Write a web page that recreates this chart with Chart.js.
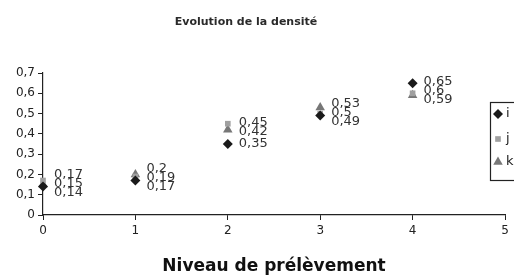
<!DOCTYPE html>
<html>
<head>
<meta charset="utf-8">
<script src="https://cdn.jsdelivr.net/npm/chart.js"></script>
<style>
  body { margin: 0; background: #fff; }
  #wrap { width: 514px; height: 280px; }
</style>
</head>
<body>
<div id="wrap"><canvas id="myChart"></canvas></div>
<script>
var levels = [0, 1, 2, 3, 4];
var seriesNames = ["i", "j", "k"];
var iValues = [0.14, 0.17, 0.35, 0.49, 0.65];
var jValues = [0.17, 0.19, 0.45, 0.5, 0.6];
var kValues = [0.15, 0.2, 0.42, 0.53, 0.59];
var yTicks = [0, 0.1, 0.2, 0.3, 0.4, 0.5, 0.6, 0.7];

var FONT = "'DejaVu Sans', Arial, sans-serif";

function pts(vals) {
  return levels.map(function (x, n) { return {x: x, y: vals[n]}; });
}
function comma(v) {
  return String(Number(v.toFixed(2))).replace(".", ",");
}

// title, value labels and the (cut off) legend box
var extras = {
  id: "extras",
  afterDatasetsDraw: function (chart) {
    var ctx = chart.ctx;
    ctx.save();
    ctx.fillStyle = "#2a2a2a";
    ctx.font = "bold 11px " + FONT;
    ctx.textAlign = "center";
    ctx.textBaseline = "middle";
    ctx.fillText("Evolution de la densité", 246, 22);

    // collect labels per level, then spread them a bit so they don't sit on top of each other
    var groups = {};
    chart.data.datasets.forEach(function (ds, d) {
      chart.getDatasetMeta(d).data.forEach(function (p, n) {
        var key = ds.data[n].x;
        (groups[key] = groups[key] || []).push({x: p.x, y: p.y, t: comma(ds.data[n].y)});
      });
    });
    var gap = 9;
    Object.keys(groups).forEach(function (k) {
      var g = groups[k].sort(function (a, b) { return a.y - b.y; });
      for (var it = 0; it < 20; it++) {
        for (var m = 1; m < g.length; m++) {
          var diff = g[m].y - g[m - 1].y;
          if (diff < gap) {
            var push = (gap - diff) / 2;
            g[m].y += push;
            g[m - 1].y -= push;
          }
        }
      }
    });

    ctx.font = "13px " + FONT;
    ctx.textAlign = "left";
    ctx.fillStyle = "#333";
    Object.keys(groups).forEach(function (k) {
      groups[k].forEach(function (l) { ctx.fillText(l.t, l.x + 11, l.y); });
    });

    // legend
    ctx.strokeStyle = "#222";
    ctx.lineWidth = 1.2;
    ctx.strokeRect(490.5, 102.5, 40, 78);
    var rows = [114, 139, 162];
    ctx.font = "13px " + FONT;
    chart.data.datasets.forEach(function (ds, d) {
      ctx.fillStyle = ds.backgroundColor;
      Chart.helpers.drawPoint(ctx, {pointStyle: ds.pointStyle, radius: ds.pointRadius, borderWidth: 0}, 498, rows[d]);
      ctx.fillStyle = "#222";
      ctx.fillText(ds.label, 506, rows[d]);
    });
    ctx.restore();
  }
};

new Chart("myChart", {
  type: "scatter",
  data: {
    datasets: [
      {label: seriesNames[0], data: pts(iValues), pointStyle: "rectRot", pointRadius: 5, backgroundColor: "#1a1a1a", borderColor: "#1a1a1a", borderWidth: 0, clip: false},
      {label: seriesNames[1], data: pts(jValues), pointStyle: "rect", pointRadius: 4, backgroundColor: "#a0a0a0", borderColor: "#a0a0a0", borderWidth: 0, clip: false},
      {label: seriesNames[2], data: pts(kValues), pointStyle: "triangle", pointRadius: 5.5, backgroundColor: "#777", borderColor: "#777", borderWidth: 0, clip: false}
    ]
  },
  options: {
    responsive: true,
    maintainAspectRatio: false,
    animation: false,
    layout: {padding: {top: 73, right: 9, bottom: 0, left: 0}},
    plugins: {legend: {display: false}, tooltip: {enabled: false}},
    scales: {
      x: {
        type: "linear", min: 0, max: 5,
        ticks: {stepSize: 1, color: "#222", font: {family: FONT, size: 12}, padding: 4},
        grid: {drawOnChartArea: false, color: "#222", tickLength: 5, tickColor: "#222"},
        border: {color: "#222", width: 1.2},
        title: {display: true, text: "Niveau de prélèvement", color: "#111", font: {family: FONT, size: 17, weight: "bold"}, padding: {top: 4, bottom: 3}},
        afterFit: function (s) { s.height = 65; }
      },
      y: {
        min: 0, max: 0.7,
        afterBuildTicks: function (s) { s.ticks = yTicks.map(function (v) { return {value: v}; }); },
        ticks: {color: "#222", font: {family: FONT, size: 12}, padding: 3, callback: function (v) { return comma(v); }},
        grid: {drawOnChartArea: false, color: "#222", tickLength: 5, tickColor: "#222"},
        border: {color: "#222", width: 1.2},
        afterFit: function (s) { s.width = 43; }
      }
    }
  },
  plugins: [extras]
});
</script>
</body>
</html>
